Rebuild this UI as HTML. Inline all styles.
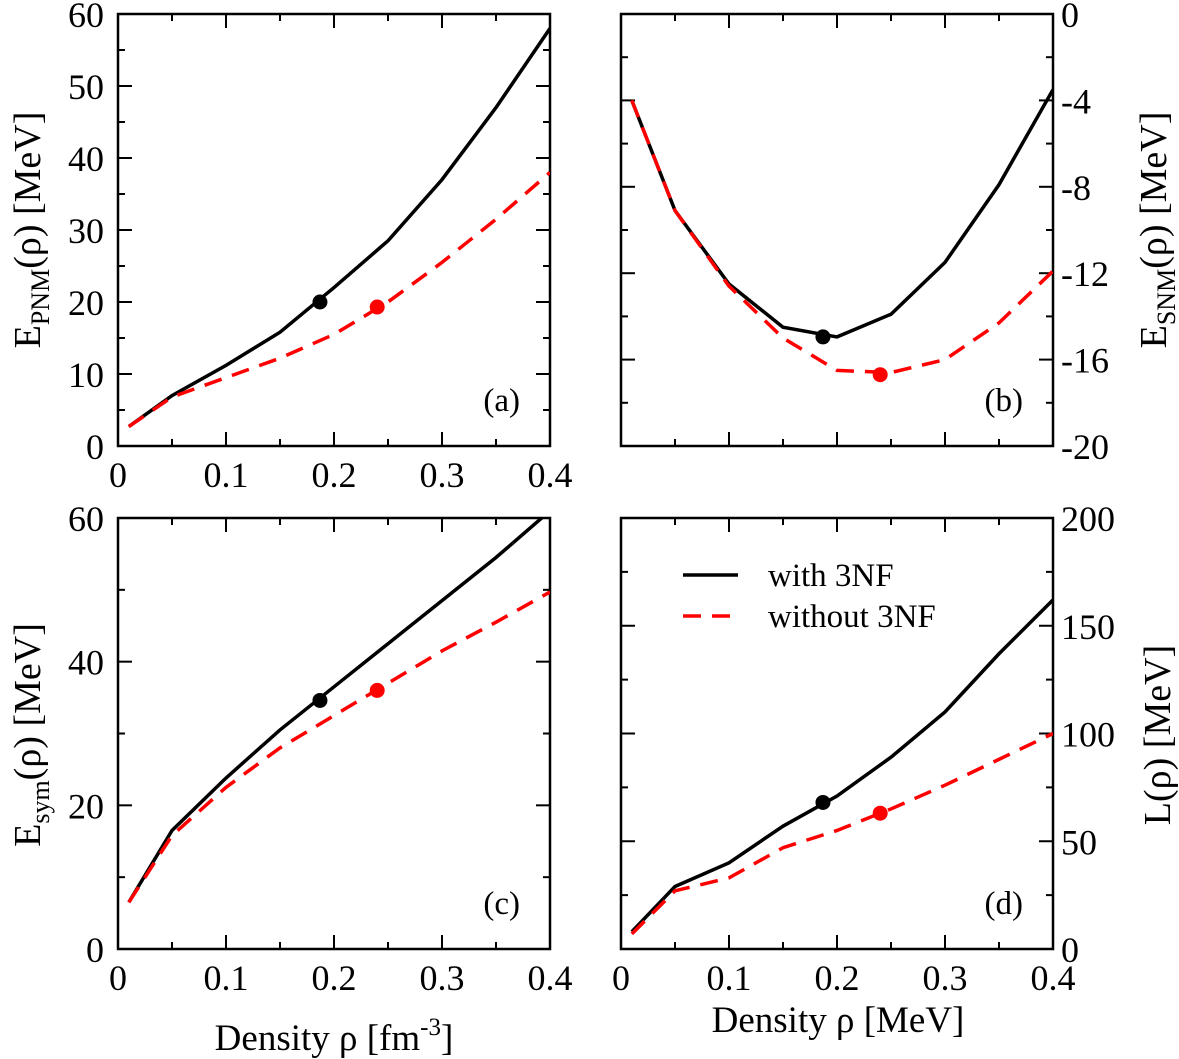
<!DOCTYPE html>
<html><head><meta charset="utf-8"><style>
body{margin:0;background:#fff}
svg{display:block;font-family:"Liberation Serif",serif}
</style></head><body>
<svg id="c" width="1179" height="1059"></svg>
<script>
const xs=[0.01,0.05,0.1,0.15,0.2,0.25,0.3,0.35,0.4];
const aBlack=[2.7,7,11.2,15.8,22,28.5,37,47,58];
const aRed=[2.7,6.8,9.5,12.2,15.5,20,25.5,31.5,38];
const bBlack=[-4,-9.1,-12.5,-14.5,-14.95,-13.9,-11.5,-7.9,-3.5];
const bRed=[-4,-9.1,-12.6,-15,-16.5,-16.6,-16,-14.3,-11.9];
const cBlack=[6.5,16.5,23.8,30.5,36.5,42.5,48.5,54.5,61];
const cRed=[6.5,15.8,22.5,28,32.5,37,41.5,45.5,49.7];
const dBlack=[8,29,40,57,71,89,110,137,162];
const dRed=[7,27,33,47,55,65,76,88,100];
const dotsX=[0.187,0.24];
const aDots=[20,19.3],bDots=[-14.95,-16.7],cDots=[34.6,36],dDots=[68,63];
const xTicks=[0,0.1,0.2,0.3,0.4];
const svg=document.getElementById('c');
const NS='http://www.w3.org/2000/svg';
function el(t,a,p){const e=document.createElementNS(NS,t);for(const k in a)e.setAttribute(k,a[k]);(p||svg).appendChild(e);return e;}
const panels=[
 {id:'a',x0:118,x1:550,y0:14,y1:446,ymin:0,ymax:60,maj:10,min:5,side:'L',black:aBlack,red:aRed,dots:aDots,xl:true},
 {id:'b',x0:621,x1:1053,y0:14,y1:446,ymin:-20,ymax:0,maj:4,min:2,side:'R',black:bBlack,red:bRed,dots:bDots,xl:false},
 {id:'c',x0:118,x1:550,y0:518,y1:949,ymin:0,ymax:60,maj:20,min:10,side:'L',black:cBlack,red:cRed,dots:cDots,xl:true},
 {id:'d',x0:621,x1:1053,y0:518,y1:949,ymin:0,ymax:200,maj:50,min:25,side:'R',black:dBlack,red:dRed,dots:dDots,xl:true}];
panels.forEach((p,i)=>{
 const g=el('g',{});
 
 
 const X=v=>p.x0+(v/0.4)*(p.x1-p.x0);
 const Y=v=>p.y1-(v-p.ymin)/(p.ymax-p.ymin)*(p.y1-p.y0);
 const cp=el('clipPath',{id:'cp'+p.id},g);el('rect',{x:p.x0,y:p.y0,width:p.x1-p.x0,height:p.y1-p.y0},cp);
 for(let k=0;k<=8;k++){const v=k*0.05,x=X(v),L=k%2?7:14;
  el('line',{x1:x,x2:x,y1:p.y1,y2:p.y1-L,stroke:'#000','stroke-width':2},g);
  el('line',{x1:x,x2:x,y1:p.y0,y2:p.y0+L,stroke:'#000','stroke-width':2},g);}
 if(p.xl) xTicks.forEach(v=>{const t=el('text',{x:X(v),y:p.y1+41,'font-size':36,'text-anchor':'middle'},g);t.textContent=v===0?'0':String(v);});
 for(let v=p.ymin;v<=p.ymax+1e-9;v+=p.min){const y=Y(v),L=(Math.abs((v-p.ymin)%p.maj)<1e-9)?14:7;
  el('line',{x1:p.x0,x2:p.x0+L,y1:y,y2:y,stroke:'#000','stroke-width':2},g);
  el('line',{x1:p.x1,x2:p.x1-L,y1:y,y2:y,stroke:'#000','stroke-width':2},g);
  if(L===14){const t=el('text',{x:p.side==='L'?p.x0-14:p.x1+8,y:y+13,'font-size':36,'text-anchor':p.side==='L'?'end':'start'},g);t.textContent=String(v);}}
 el('rect',{x:p.x0,y:p.y0,width:p.x1-p.x0,height:p.y1-p.y0,fill:'none',stroke:'#000','stroke-width':2.5},g);
 const line=(arr,col,dash,nm)=>{const l=el('polyline',{points:xs.map((x,j)=>X(x)+','+Y(arr[j])).join(' '),fill:'none',stroke:col,'stroke-width':3.5,'stroke-dasharray':dash,'clip-path':'url(#cp'+p.id+')'},g);
  };
 line(p.black,'#000','none','line-with-3nf-'+p.id);
 line(p.red,'#f00','18,11','line-without-3nf-'+p.id);
 const c1=el('circle',{cx:X(dotsX[0]),cy:Y(p.dots[0]),r:7.5,fill:'#000'},g);
 
 const c2=el('circle',{cx:X(dotsX[1]),cy:Y(p.dots[1]),r:7.5,fill:'#f00'},g);
 
 const lb=el('text',{x:p.x1-30,y:p.y1-35,'font-size':33,'text-anchor':'end'},g);lb.textContent='('+p.id+')';
});
</script>
<div style="position:absolute;left:0;top:0;width:1179px;height:1059px;pointer-events:none">
<svg width="1179" height="1059" style="font-family:'Liberation Serif',serif">
 <g><text transform="translate(40,230) rotate(-90)" font-size="38" text-anchor="middle">E<tspan font-size="26" dy="9">PNM</tspan><tspan dy="-9">(ρ) [MeV]</tspan></text></g>
 <g><text transform="translate(1166,230) rotate(-90)" font-size="38" text-anchor="middle">E<tspan font-size="26" dy="9">SNM</tspan><tspan dy="-9">(ρ) [MeV]</tspan></text></g>
 <g><text transform="translate(40,735) rotate(-90)" font-size="38" text-anchor="middle">E<tspan font-size="26" dy="9">sym</tspan><tspan dy="-9">(ρ) [MeV]</tspan></text></g>
 <g><text transform="translate(1170,735) rotate(-90)" font-size="38" text-anchor="middle">L(ρ) [MeV]</text></g>
 <text x="334" y="1050" font-size="37" text-anchor="middle">Density ρ [fm<tspan font-size="25" dy="-15">-3</tspan><tspan dy="15">]</tspan></text>
 <text x="838" y="1032" font-size="37" text-anchor="middle">Density ρ [MeV]</text>
 <g>
  <line x1="683" x2="738" y1="575" y2="575" stroke="#000" stroke-width="3.5"/>
  <text x="768" y="586" font-size="33">with 3NF</text>
  <line x1="683" x2="738" y1="616" y2="616" stroke="#f00" stroke-width="3.5" stroke-dasharray="18,11"/>
  <text x="768" y="627" font-size="33">without 3NF</text>
 </g>
</svg></div>
</body></html>
